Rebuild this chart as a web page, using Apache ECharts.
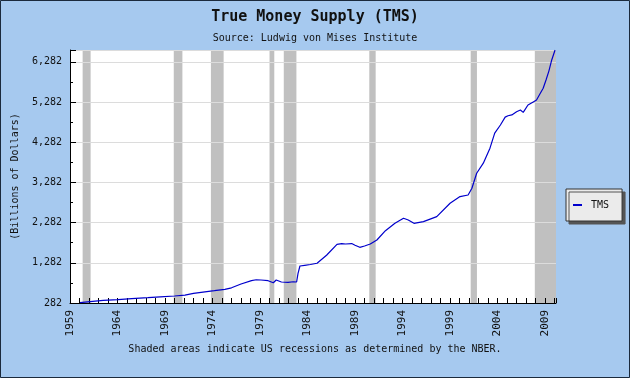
<!DOCTYPE html>
<html>
<head>
<meta charset="utf-8">
<script src="https://cdn.jsdelivr.net/npm/echarts@6/dist/echarts.min.js"></script>
<style>
html,body{margin:0;padding:0;background:#a6c9ef;}
#c{width:630px;height:378px;}
</style>
</head>
<body>
<div id="c"></div>
<script>
// Time (decimal years) and True Money Supply values (billions of dollars)
const years = [1960.05,1961.4,1962.5,1964.05,1965.5,1967.2,1968.5,1970.0,1971.1,1972.0,1972.8,1974.2,1975.3,1976.0,1977.0,1978.1,1978.6,1979.1,1979.85,1980.4,1980.7,1981.25,1981.95,1982.5,1982.85,1983.0,1983.2,1983.7,1984.3,1985.0,1986.0,1987.1,1987.6,1988.0,1988.65,1989.0,1989.5,1990.0,1990.6,1991.3,1992.2,1993.2,1994.1,1994.6,1995.2,1996.2,1997.6,1999.0,2000.05,2000.9,2001.3,2001.8,2002.5,2003.2,2003.7,2004.3,2004.8,2005.1,2005.5,2006.0,2006.4,2006.7,2007.2,2007.8,2008.1,2008.5,2008.8,2009.1,2009.4,2009.7,2010.05];
const tms = [290,324,345,364,390,414,435,456,480,520,548,588,622,660,755,837,860,854,837,787,854,804,796,810,804,1020,1202,1220,1240,1270,1470,1742,1760,1750,1760,1720,1667,1700,1750,1849,2081,2264,2389,2346,2264,2306,2430,2764,2930,2969,3136,3510,3760,4133,4506,4710,4905,4940,4960,5040,5082,5024,5206,5290,5332,5498,5622,5830,6050,6327,6575];
// NBER recessions (decimal years)
const recessionStarts = [1960.33,1969.92,1973.83,1980.0,1981.5,1990.5,2001.17,2007.92];
const recessionEnds   = [1961.17,1970.83,1975.17,1980.5,1982.83,1991.17,2001.83,2010.2];
// Y tick labels
const yTicks = [282,1282,2282,3282,4282,5282,6282];

const MONO = '"DejaVu Sans Mono", monospace';
const chart = echarts.init(document.getElementById('c'), null, {renderer:'canvas'});
const lineData = years.map((y,i)=>[y,tms[i]]);
const bands = recessionStarts.map((s,i)=>[{xAxis:s},{xAxis:recessionEnds[i]}]);
function comma(v){return String(Math.round(v)).replace(/\B(?=(\d{3})+(?!\d))/g, ',');}

chart.setOption({
  backgroundColor:'#a6c9ef',
  animation:false,
  title:[
    {text:'True Money Supply (TMS)', left:'center', top:5,
     textStyle:{fontFamily:MONO,fontSize:15,fontWeight:'bold',color:'#111'}},
    {text:'Source: Ludwig von Mises Institute', left:'center', top:28,
     textStyle:{fontFamily:MONO,fontSize:10,fontWeight:'normal',color:'#111'}}
  ],
  legend:{
    left:566, top:189, orient:'vertical',
    backgroundColor:'#ebebeb', borderColor:'#333', borderWidth:1,
    shadowColor:'#555', shadowOffsetX:3, shadowOffsetY:3, shadowBlur:0,
    padding:[11,13,11,7], itemWidth:9, itemHeight:2, itemGap:0,
    icon:'rect',
    textStyle:{fontFamily:MONO,fontSize:10,color:'#111',padding:[0,0,0,4]},
    data:['TMS']
  },
  grid:{left:70, right:74, top:50, bottom:75, show:true, backgroundColor:'#fff', borderWidth:0, z:0,
        containLabel:false, outerBoundsMode:'none'},
  xAxis:{
    type:'value', min:1959, max:2010.15, interval:1, z:2,
    axisLine:{lineStyle:{color:'#000',width:1}},
    axisTick:{inside:true,length:5,lineStyle:{color:'#000'}},
    splitLine:{show:false},
    axisLabel:{rotate:90, margin:7, fontFamily:MONO, fontSize:11, color:'#111',
      formatter:function(v){return (Math.abs(v-Math.round(v))<1e-6 && (Math.round(v)-1959)%5===0)?String(Math.round(v)):'';}
    }
  },
  yAxis:{
    type:'value', min:282, max:6575, interval:1000, z:2,
    name:'(Billions of Dollars)', nameLocation:'middle', nameRotate:90, nameGap:50,
    nameTextStyle:{fontFamily:MONO,fontSize:10,color:'#111'},
    axisLine:{show:true,lineStyle:{color:'#000',width:1}},
    axisTick:{inside:true,length:6,lineStyle:{color:'#000'}},
    minorTick:{show:true,splitNumber:2,length:3,lineStyle:{color:'#000'}},
    splitLine:{show:true,lineStyle:{color:'#dcdcdc',width:1}},
    axisLabel:{margin:8, fontFamily:MONO, fontSize:10, color:'#111',
      formatter:function(v){return yTicks.indexOf(Math.round(v))>=0?comma(v):'';}}
  },
  series:[
    {name:'recessions', type:'line', data:[], z:1, silent:true,
     markArea:{silent:true, itemStyle:{color:'#c0c0c0',opacity:1}, data:bands}},
    {name:'TMS', type:'line', data:lineData, z:3, showSymbol:false, symbol:'none',
     itemStyle:{color:'#0000cc'}, lineStyle:{color:'#0000cc',width:1.2}}
  ],
  graphic:[
    {type:'text', left:'center', top:344, z:10,
     style:{text:'Shaded areas indicate US recessions as determined by the NBER.', font:'10px '+MONO, fill:'#111'}},
    {type:'rect', shape:{x:0.5,y:0.5,width:629,height:377}, z:10,
     style:{fill:'none',stroke:'#1b2a3c',lineWidth:1}}
  ]
});
</script>
</body>
</html>
